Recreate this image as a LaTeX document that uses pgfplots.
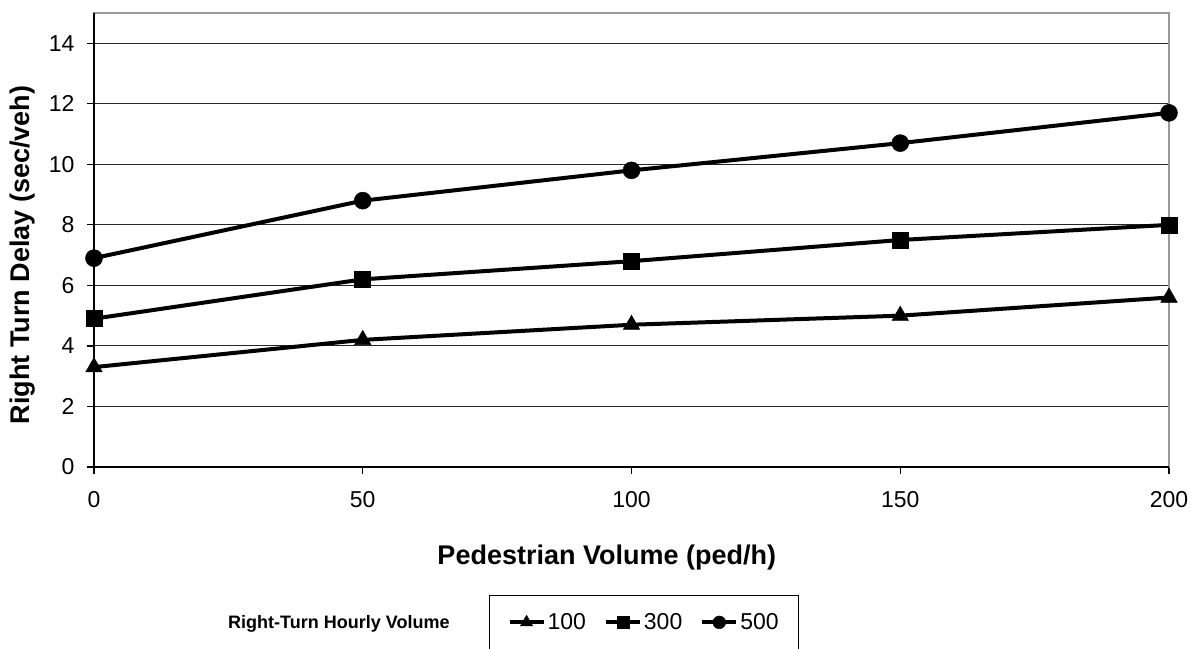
\documentclass[border=0pt]{standalone}
\usepackage{fontspec}
\setmainfont{Liberation Sans}
\usepackage{pgfplots}
\pgfplotsset{compat=1.18}
\begin{document}
\begin{tikzpicture}[x=1pt,y=1pt]
\begin{axis}[
  name=ax,
  scale only axis,
  width=1075pt, height=454pt,
  at={(94pt,181pt)}, anchor=south west,
  xmin=0, xmax=200, ymin=0, ymax=15,
  xtick={0,50,100,150,200},
  ytick={0,2,4,6,8,10,12,14},
  ymajorgrids,
  major grid style={black!85, line width=1.1pt},
  axis line style={draw=black!40, line width=1.4pt},
  tick align=outside,
  xtick pos=left, ytick pos=left,
  major tick length=7pt,
  every tick/.style={black, line width=1.2pt},
  tick label style={font=\fontsize{23}{26}\selectfont},
  /pgf/number format/assume math mode=true,
  xticklabel style={yshift=-14pt},
  yticklabel style={xshift=-9pt},
  xlabel={Pedestrian Volume (ped/h)},
  ylabel={Right Turn Delay (sec/veh)},
  every axis x label/.style={at={(axis description cs:0.477,-0.2)},anchor=center,font=\fontsize{27}{30}\selectfont\bfseries},
  every axis y label/.style={at={(axis description cs:-0.066,0.467)},rotate=90,anchor=center,font=\fontsize{27}{30}\selectfont\bfseries},
  legend columns=3,
  legend style={at={(axis description cs:0.3674,-0.2819)}, anchor=north west,
    draw=black, line width=1.2pt, inner xsep=18pt, inner ysep=16pt,
    font=\fontsize{23}{26}\selectfont,
    /tikz/every even column/.append style={column sep=16pt}},
  legend image code/.code={\draw[mark repeat=2,mark phase=2,#1,every mark/.append style={scale=0.75}] plot coordinates {(0pt,0pt) (17pt,0pt) (34pt,0pt)};},
]
\addplot[black, line width=4pt, mark=triangle*, mark size=9.5pt, mark options={solid, line width=0.5pt}]
  coordinates {(0,3.3)(50,4.2)(100,4.7)(150,5.0)(200,5.6)};
\addlegendentry{100}
\addplot[black, line width=4pt, mark=square*, mark size=8pt, mark options={solid, line width=0.5pt}]
  coordinates {(0,4.9)(50,6.2)(100,6.8)(150,7.5)(200,8.0)};
\addlegendentry{300}
\addplot[black, line width=4pt, mark=*, mark size=8.5pt, mark options={solid, line width=0.5pt}]
  coordinates {(0,6.9)(50,8.8)(100,9.8)(150,10.7)(200,11.7)};
\addlegendentry{500}
\end{axis}
\draw[black, line width=1.4pt] (ax.north west) -- (ax.south west) -- (ax.south east);
\node[anchor=west, font=\fontsize{18}{21}\selectfont\bfseries, inner sep=0pt] at (228,24) {Right-Turn Hourly Volume};
\pgfresetboundingbox
\path[use as bounding box] (0,0) rectangle (1191,648);
\end{tikzpicture}
\end{document}
